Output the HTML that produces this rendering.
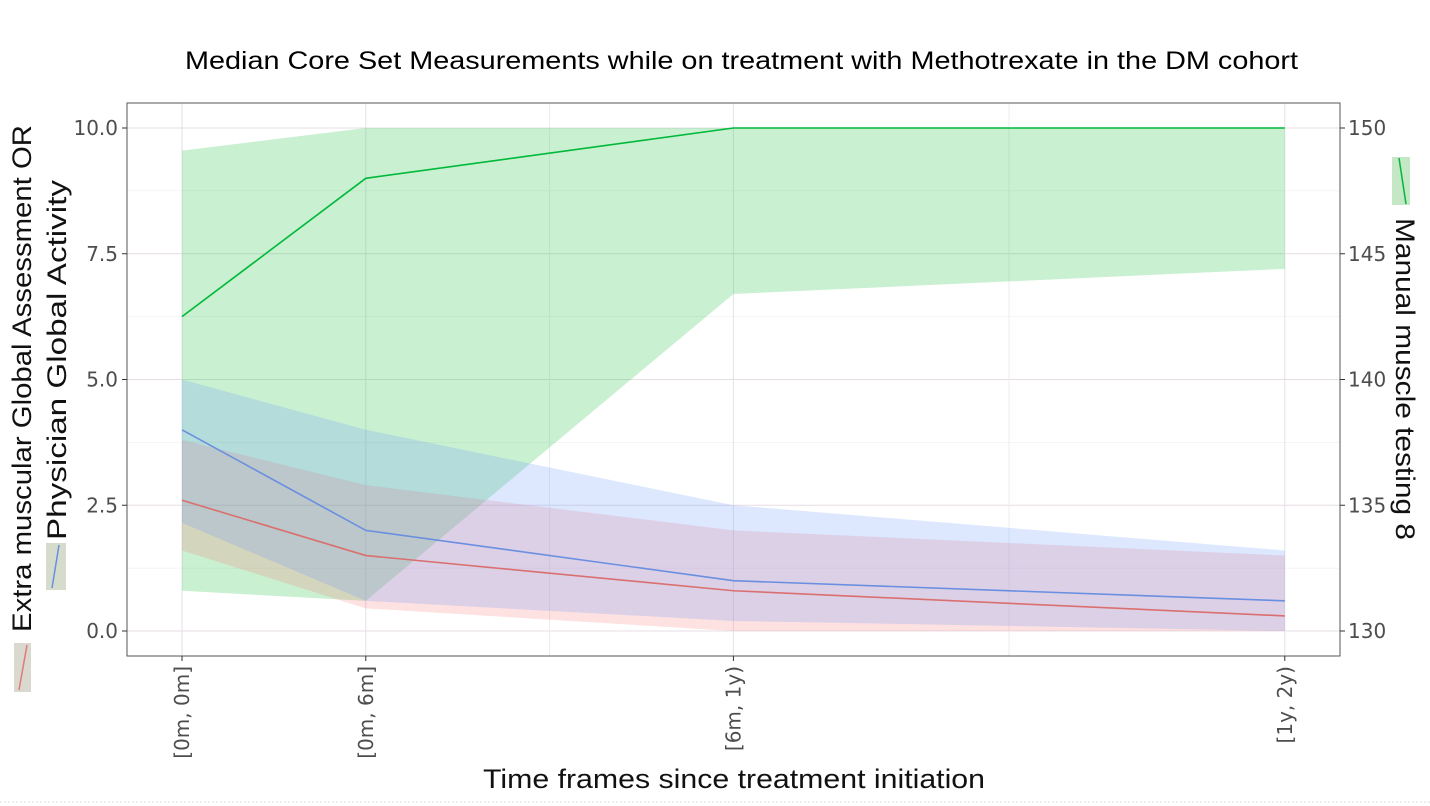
<!DOCTYPE html>
<html><head><meta charset="utf-8"><style>
html,body{margin:0;padding:0;background:#fff;}
svg{display:block;font-family:"DejaVu Sans","Liberation Sans",sans-serif;}
</style></head><body>
<svg id="chart" width="1430" height="806" viewBox="0 0 1430 806" xmlns="http://www.w3.org/2000/svg">
<text x="185" y="69" font-size="25" textLength="1113" lengthAdjust="spacingAndGlyphs" fill="#000" font-family="Liberation Sans, sans-serif">Median Core Set Measurements while on treatment with Methotrexate in the DM cohort</text>
<g id="grid"></g>
<g id="bands"></g>
<g id="lines"></g>
<rect x="127" y="103" width="1213" height="553" fill="none" stroke="#555" stroke-width="1"/>
<g id="axes"></g>
<text x="483" y="788" font-size="27" textLength="502" lengthAdjust="spacingAndGlyphs" fill="#111" font-family="Liberation Sans, sans-serif">Time frames since treatment initiation</text>
<g>
<text transform="translate(31,632) rotate(-90)" font-size="27" textLength="507" lengthAdjust="spacingAndGlyphs" fill="#111" font-family="Liberation Sans, sans-serif">Extra muscular Global Assessment OR</text>
<text transform="translate(66,540) rotate(-90)" font-size="27" textLength="360" lengthAdjust="spacingAndGlyphs" fill="#111" font-family="Liberation Sans, sans-serif">Physician Global Activity</text>
<rect x="14" y="643" width="17" height="49" fill="#d9d9d0"/>
<line x1="19" y1="690" x2="27" y2="645" stroke="#e07a7a" stroke-width="1.5"/>
<rect x="46" y="543" width="20" height="47" fill="#d5dccc"/>
<line x1="52" y1="588" x2="59" y2="545" stroke="#6b8fe0" stroke-width="1.5"/>
</g>
<g>
<rect x="1392" y="157" width="18" height="48" fill="#c4e7c6"/>
<line x1="1399" y1="158" x2="1406" y2="204" stroke="#00b93a" stroke-width="1.5"/>
<text transform="translate(1396,218) rotate(90)" font-size="27" textLength="322" lengthAdjust="spacingAndGlyphs" fill="#111" font-family="Liberation Sans, sans-serif">Manual muscle testing 8</text>
</g>
<line x1="0" y1="802" x2="1430" y2="802" stroke="#ddd" stroke-dasharray="2,2"/>
</svg>
<script>
const categories = ["[0m, 0m]","[0m, 6m]","[6m, 1y)","[1y, 2y)"];
const catPos = [0,1,3,6];
const leftTicks = [0,2.5,5,7.5,10];
const leftTickLabels = ["0.0","2.5","5.0","7.5","10.0"];
const rightTicks = [130,135,140,145,150];
const mmtMedian = [142.5,148,150,150];
const mmtLow = [131.6,131.2,143.4,144.4];
const mmtHigh = [149.1,150,150,150];
const pgaMedian = [4.0,2.0,1.0,0.6];
const pgaLow = [2.15,0.6,0.2,0.0];
const pgaHigh = [5.0,4.0,2.5,1.6];
const emgaMedian = [2.6,1.5,0.8,0.3];
const emgaLow = [1.6,0.45,0.0,0.0];
const emgaHigh = [3.8,2.9,2.0,1.5];

const NS="http://www.w3.org/2000/svg";
const X0=182, XU=183.8;
function xs(v){return X0+v*XU;}
function yl(v){return 631-v*50.3;}
function yr(v){return 631-(v-130)*25.15;}
function mk(tag,attrs,parent){const e=document.createElementNS(NS,tag);for(const k in attrs)e.setAttribute(k,attrs[k]);parent.appendChild(e);return e;}
const grid=document.getElementById('grid'),bands=document.getElementById('bands'),lines=document.getElementById('lines'),axes=document.getElementById('axes');
for(let i=0;i<leftTicks.length;i++){
  const y=yl(leftTicks[i]);
  const g=mk('line',{x1:127,x2:1340,y1:y,y2:y,stroke:'#e6dde3','stroke-width':1},grid);
  
  
  if(i<leftTicks.length-1){const ym=yl((leftTicks[i]+leftTicks[i+1])/2);
  const m=mk('line',{x1:127,x2:1340,y1:ym,y2:ym,stroke:'#ece8ea','stroke-width':0.6},grid);
  
  }
}
for(const v of [0,1,2,3,4.5,6]){
  const x=xs(v);
  const g=mk('line',{x1:x,x2:x,y1:103,y2:656,stroke:(catPos.includes(v))?'#e2e2ea':'#ececf0','stroke-width':1},grid);
  
  
}
function band(lo,hi,yf,fill,name){
  let d='';
  for(let i=0;i<catPos.length;i++)d+=(i?'L':'M')+xs(catPos[i])+','+yf(hi[i]);
  for(let i=catPos.length-1;i>=0;i--)d+='L'+xs(catPos[i])+','+yf(lo[i]);
  const p=mk('path',{d:d+'Z',fill:fill},bands);
  
  
}
function line(vals,yf,stroke,name){
  const pts=vals.map((v,i)=>xs(catPos[i])+','+yf(v)).join(' ');
  const p=mk('polyline',{points:pts,fill:'none',stroke:stroke,'stroke-width':1.6},lines);
  
  
}
band(mmtLow,mmtHigh,yr,'rgba(60,200,90,0.28)','mmt8-band');
band(emgaLow,emgaHigh,yl,'rgba(250,120,120,0.22)','extra-muscular-band');
band(pgaLow,pgaHigh,yl,'rgba(100,150,255,0.22)','pga-band');
line(mmtMedian,yr,'#00b93a','mmt8-line');
line(emgaMedian,yl,'#d9706f','extra-muscular-line');
line(pgaMedian,yl,'#6a8fe0','pga-line');
leftTicks.forEach((v,i)=>{
  const y=yl(v);
  mk('line',{x1:122,x2:127,y1:y,y2:y,stroke:'#333'},axes);
  const t=mk('text',{x:118,y:y+7,'font-size':20,'text-anchor':'end',fill:'#4d4d4d'},axes);
  t.textContent=leftTickLabels[i];
  
  
});
rightTicks.forEach(v=>{
  const y=yr(v);
  mk('line',{x1:1340,x2:1345,y1:y,y2:y,stroke:'#333'},axes);
  const t=mk('text',{x:1348,y:y+7,'font-size':20,fill:'#4d4d4d'},axes);
  t.textContent=String(v);
  
  
});
categories.forEach((c,i)=>{
  const x=xs(catPos[i]);
  mk('line',{x1:x,x2:x,y1:656,y2:661,stroke:'#333'},axes);
  const t=mk('text',{transform:'translate('+(x+7)+',666) rotate(-90)','font-size':20,'text-anchor':'end',fill:'#4d4d4d'},axes);
  t.textContent=c;
  
  
});
</script>
</body></html>
